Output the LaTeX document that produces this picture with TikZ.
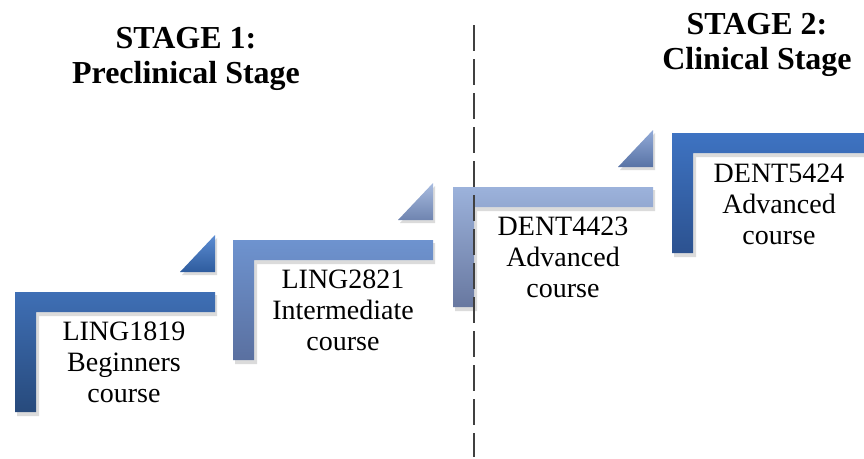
\documentclass[tikz,border=0pt]{standalone}
\usepackage{fontspec}
\setmainfont{Liberation Serif}
\definecolor{aT}{HTML}{3F6FB5}\definecolor{aB}{HTML}{274A7C}
\definecolor{bT}{HTML}{6E93CF}\definecolor{bB}{HTML}{5A70A0}
\definecolor{cT}{HTML}{9CB2DB}\definecolor{cB}{HTML}{6878A0}
\definecolor{dT}{HTML}{3E73C2}\definecolor{dB}{HTML}{2C5290}
\definecolor{taT}{HTML}{5C8CD2}\definecolor{taB}{HTML}{2E5C9E}
\definecolor{tbT}{HTML}{A8BCE0}\definecolor{tbB}{HTML}{6F84B0}
\definecolor{tcT}{HTML}{92AAD8}\definecolor{tcB}{HTML}{5873A5}
\tikzset{
  label/.style={align=center, font=\fontsize{28}{31}\selectfont, inner sep=0pt},
  heading/.style={align=center, font=\bfseries\fontsize{32}{35}\selectfont, inner sep=0pt},
  shadowfill/.style={fill=black, opacity=0.14},
  divider/.style={draw=black!75, line width=1.4pt, dash pattern=on 26pt off 8pt}
}
\begin{document}
\begin{tikzpicture}[x=1pt,y=-1pt]
\useasboundingbox (0,0) rectangle (864,458);
% steps: x/y/top/bottom
\foreach \x/\y/\ct/\cb in {15/292/aT/aB, 233/240/bT/bB, 453/187/cT/cB, 672/133/dT/dB}{
  \fill[shadowfill] (\x+2,\y+3) -- (\x+202,\y+3) -- (\x+202,\y+24) -- (\x+24,\y+24) -- (\x+24,\y+124) -- (\x+2,\y+124) -- cycle;
  \shade[top color=\ct, bottom color=\cb] (\x,\y) -- (\x+200,\y) -- (\x+200,\y+20) -- (\x+21,\y+20) -- (\x+21,\y+120) -- (\x,\y+120) -- cycle;
}
\foreach \x/\y/\ct/\cb in {15/292/taT/taB, 233/240/tbT/tbB, 453/187/tcT/tcB}{
  \fill[shadowfill] (\x+167,\y-17) -- (\x+202,\y-17) -- (\x+202,\y-54) -- cycle;
  \shade[top color=\ct, bottom color=\cb] (\x+165,\y-20) -- (\x+200,\y-20) -- (\x+200,\y-57) -- cycle;
}
\node[label] (s1) at (124,362) {LING1819\\Beginners\\course};
\node[label] (s2) at (343,310) {LING2821\\Intermediate\\course};
\node[label] (s3) at (563,257) {DENT4423\\Advanced\\course};
\node[label] (s4) at (779,204) {DENT5424\\Advanced\\course};
\node[heading] (h1) at (186,59) {STAGE 1:\\Preclinical Stage};
\node[heading] (h2) at (757,45) {STAGE 2:\\Clinical Stage};
\coordinate (dtop) at (474,25);
\coordinate (dbot) at (474,457);
\draw[divider] (dtop) -- (dbot);
\end{tikzpicture}
\end{document}
